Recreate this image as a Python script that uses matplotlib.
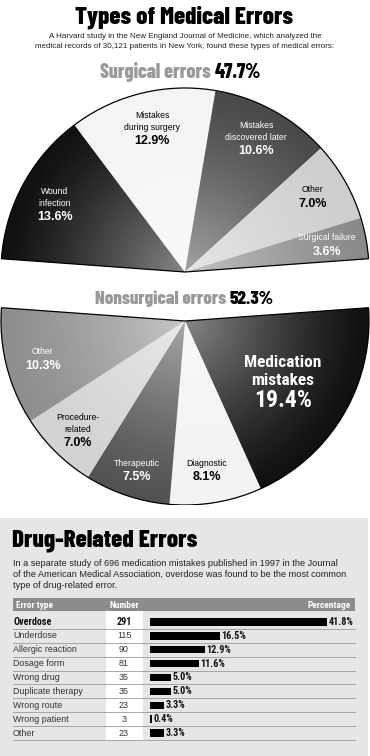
import numpy as np
import matplotlib
matplotlib.use("Agg")
import matplotlib.pyplot as plt
from matplotlib import font_manager
from matplotlib.patches import Rectangle, Wedge

# ---- data ----
surgical_labels = ["Wound\ninfection", "Mistakes\nduring surgery", "Mistakes\ndiscovered later",
                   "Other", "Surgical failure"]
surgical_values = [13.6, 12.9, 10.6, 7.0, 3.6]
surgical_colors = ["#111111", "#f4f4f4", "#4a4a4a", "#cecece", "#8a8a8a"]

# listed clockwise from the right side of the lower half
nonsurgical_labels = ["Medication\nmistakes", "Diagnostic", "Therapeutic", "Procedure-\nrelated", "Other"]
nonsurgical_values = [19.4, 8.1, 7.5, 7.0, 10.3]
nonsurgical_colors = ["#111111", "#f2f2f2", "#525252", "#d2d2d2", "#8e8e8e"]

drug_types = ["Overdose", "Underdose", "Allergic reaction", "Dosage form", "Wrong drug",
              "Duplicate therapy", "Wrong route", "Wrong patient", "Other"]
drug_counts = [291, 115, 90, 81, 35, 35, 23, 3, 23]
drug_pcts = [41.8, 16.5, 12.9, 11.6, 5.0, 5.0, 3.3, 0.4, 3.3]

W, H = 370, 756


def pick_family(cands, min_weight=700, fallback=("DejaVu Sans",)):
    have = set()
    for f in font_manager.fontManager.ttflist:
        w = f.weight if isinstance(f.weight, int) else 400
        if w >= min_weight:
            have.add(f.name)
    for c in cands:
        if c in have:
            return [c, "DejaVu Sans"]
    return list(fallback)


NARROW = pick_family(["Roboto Condensed", "Archivo Narrow", "IBM Plex Sans Condensed",
                      "Barlow Condensed", "PT Sans Narrow", "Fira Sans Condensed",
                      "Encode Sans Condensed", "Asap Condensed", "Liberation Sans Narrow"])
HEAVY_FAM = pick_family(["Roboto Condensed", "Archivo Narrow", "Barlow Condensed",
                         "IBM Plex Sans Condensed", "Fira Sans Condensed", "Encode Sans Condensed",
                         "Asap Condensed", "Sofia Sans Condensed"], min_weight=800, fallback=NARROW)
SANS = ["Liberation Sans", "DejaVu Sans"]
HEAVY = 800

fig = plt.figure(figsize=(W / 100, H / 100), dpi=100)
fig.patch.set_facecolor("white")
renderer = fig.canvas.get_renderer()


def fit(t, width):
    bb = t.get_window_extent(renderer)
    t.set_fontsize(t.get_fontsize() * width / bb.width)
    return t.get_fontsize()


# background axes (pixel units) for boxes and rules
bg = fig.add_axes([0, 0, 1, 1])
bg.set_xlim(0, W)
bg.set_ylim(H, 0)
bg.axis("off")

# ---- pies: one 100% pie split into two exploded halves ----
R = 184
top_px, bot_px = 86, 505
mid_px = 296.5
gap = 24.5
pax = fig.add_axes([0, 1 - bot_px / H, 1, (bot_px - top_px) / H])

all_vals = surgical_values + nonsurgical_values
all_cols = surgical_colors + nonsurgical_colors
total = sum(all_vals)
start = 90 + sum(surgical_values) / total * 360 / 2
n_s = len(surgical_values)

yy, xx = np.mgrid[-1:1:300j, -1:1:300j]
rr = np.clip(np.sqrt(xx ** 2 + yy ** 2), 0, 1)
grad = np.ones((300, 300, 4))
grad[..., 3] = 0.5 * (1 - rr) ** 1.3

for half, cy in (("up", gap), ("down", -gap)):
    wedges, _ = pax.pie(all_vals, colors=all_cols, startangle=start, counterclock=False,
                        radius=R, center=(0, cy), wedgeprops=dict(linewidth=0))
    keep = list(range(n_s)) if half == "up" else list(range(n_s, len(all_vals)))
    for i, w in enumerate(wedges):
        if i not in keep:
            w.set_visible(False)
            continue
        im = pax.imshow(grad, extent=(-R, R, cy - R, cy + R), zorder=3, origin="lower")
        im.set_clip_path(w)
    t_a = min(wedges[i].theta1 for i in keep)
    t_b = max(wedges[i].theta2 for i in keep)
    pax.add_patch(Wedge((0, cy), R, t_a, t_b, fill=False, ec="black", lw=0.9, zorder=4))

pax.set_xlim(-W / 2, W / 2)
pax.set_ylim(mid_px - bot_px, mid_px - top_px)
pax.set_aspect("auto")
pax.axis("off")

# ---- drug related errors: boxes, rules and bars ----
row0, step = 622, 13.875
n_rows = len(drug_types)
bg.add_patch(Rectangle((0, 518), 368, H - 518, fc="#e6e6e6", ec="none", zorder=0))
bg.add_patch(Rectangle((13, 598), 342, 13, fc="#8c8c8c", ec="none", zorder=1))
bg.add_patch(Rectangle((106, 611), 37, row0 + step * (n_rows - 0.5) - 611,
                       fc="white", ec="none", zorder=1))
for i in range(n_rows):
    y = row0 + i * step + step / 2
    bg.plot([13, 355], [y, y], color="#9a9a9a", lw=0.6, zorder=2)

px_per_pct = 177 / 41.8
bx0, bw = 150, 205
btop = row0 - step / 2
bbot = row0 + step * (n_rows - 0.5)
bax = fig.add_axes([bx0 / W, 1 - bbot / H, bw / W, (bbot - btop) / H])
bax.patch.set_alpha(0)
bax.barh(range(n_rows), drug_pcts, height=0.54, color="black")
bax.set_xlim(0, bw / px_per_pct)
bax.set_ylim(n_rows - 0.5, -0.5)
bax.axis("off")

# overlay axes (pixel units) for all text
ov = fig.add_axes([0, 0, 1, 1])
ov.set_xlim(0, W)
ov.set_ylim(H, 0)
ov.axis("off")

title = ov.text(184, 23.5, "Types of Medical Errors", ha="center", va="baseline",
                fontsize=16, fontweight=HEAVY, family=HEAVY_FAM)
fit(title, 218)
s1 = ov.text(185, 36, "A Harvard study in the New England Journal of Medicine, which analyzed the",
             ha="center", va="center", fontsize=6, family=SANS, color="#222222")
s2 = ov.text(185, 46, "medical records of 30,121 patients in New York, found these types of medical errors:",
             ha="center", va="center", fontsize=6, family=SANS, color="#222222")
s1.set_fontsize(fit(s2, 304))


def heading(x_mid, y, name, pct, width):
    probe = ov.text(0, 0, f"{name} {pct:.1f}%", fontsize=13, fontweight=HEAVY, family=HEAVY_FAM)
    fs = fit(probe, width)
    probe.remove()
    a = ov.text(x_mid - width / 2, y, name + " ", ha="left", va="baseline", fontsize=fs,
                fontweight=HEAVY, family=HEAVY_FAM, color="#999999")
    ov.annotate(f"{pct:.1f}%", xy=(1, 0), xycoords=a, va="bottom", ha="left", fontsize=fs,
                fontweight=HEAVY, family=HEAVY_FAM, color="black")


heading(180, 78, "Surgical errors", sum(surgical_values), 160)
heading(184, 304, "Nonsurgical errors", sum(nonsurgical_values), 178)


def pie_label(x, y, name, pct, color, fs=6.2, pfs=9):
    lines = name.split("\n")
    lstep = fs * 1.45 * 100 / 72
    for k, ln in enumerate(lines):
        ov.text(x, y + k * lstep, ln, ha="center", va="center", fontsize=fs,
                family=SANS, color=color)
    ov.text(x, y + len(lines) * lstep + (pfs - fs) * 0.4, f"{pct:.1f}%", ha="center",
            va="center", fontsize=pfs, fontweight="bold", family=SANS, color=color)


s_pos = [(55, 191, "white"), (152, 115, "black"), (256, 125, "white"),
         (313, 190, "black"), (327, 238, "white")]
for (x, y, c), lab, v in zip(s_pos, surgical_labels, surgical_values):
    pie_label(x, y, lab, v, c)

n_pos = [(283, 367, "white"), (207, 463, "black"), (137, 463, "white"),
         (78, 417, "black"), (43, 352, "white")]
for k, ((x, y, c), lab, v) in enumerate(zip(n_pos, nonsurgical_labels, nonsurgical_values)):
    if k == 0:
        l1, l2 = lab.split("\n")
        m1 = ov.text(x, y, l1, ha="center", va="baseline", fontsize=12.5,
                     fontweight="bold", family=NARROW, color=c)
        fs = fit(m1, 77)
        ov.text(x, y + 18, l2, ha="center", va="baseline", fontsize=fs,
                fontweight="bold", family=NARROW, color=c)
        m3 = ov.text(x, y + 40, f"{v:.1f}%", ha="center", va="baseline", fontsize=15,
                     fontweight="bold", family=NARROW, color=c)
        fit(m3, 58)
    else:
        pie_label(x, y, lab, v, c)

dt = ov.text(12, 547, "Drug-Related Errors", ha="left", va="baseline",
             fontsize=18, fontweight=HEAVY, family=HEAVY_FAM)
fit(dt, 185)
para = ["In a separate study of 696 medication mistakes published in 1997 in the Journal",
        "of the American Medical Association, overdose was found to be the most common",
        "type of drug-related error."]
ptxt = [ov.text(13, 563 + k * 11, ln, ha="left", va="center", fontsize=6.4,
                family=SANS, color="#222222") for k, ln in enumerate(para)]
pfs = fit(ptxt[1], 332)
for t in ptxt:
    t.set_fontsize(pfs)

hp = ov.text(351, 605, "Percentage", ha="right", va="center", fontsize=7,
             fontweight="bold", family=NARROW, color="white")
hfs = fit(hp, 43)
ov.text(16, 605, "Error type", ha="left", va="center", fontsize=hfs,
        fontweight="bold", family=NARROW, color="white")
ov.text(124, 605, "Number", ha="center", va="center", fontsize=hfs,
        fontweight="bold", family=NARROW, color="white")

probe = ov.text(0, 0, "41.8%", fontsize=7, fontweight="bold", family=NARROW)
bfs = fit(probe, 25)
probe.remove()
for i in range(n_rows):
    y = row0 + i * step
    bold = i == 0
    kw = dict(fontsize=bfs, fontweight="bold", family=NARROW, color="#111111") if bold else \
        dict(fontsize=6.4, family=SANS, color="#333333")
    ov.text(13, y, drug_types[i], ha="left", va="center", **kw)
    ov.text(124, y, str(drug_counts[i]), ha="center", va="center", **kw)
    bax.text(drug_pcts[i] + 0.35, i, f"{drug_pcts[i]:.1f}%", ha="left", va="center",
             fontsize=bfs, fontweight="bold", family=NARROW, color="#111111")

fig.savefig("out.png", dpi=100, facecolor="white")
